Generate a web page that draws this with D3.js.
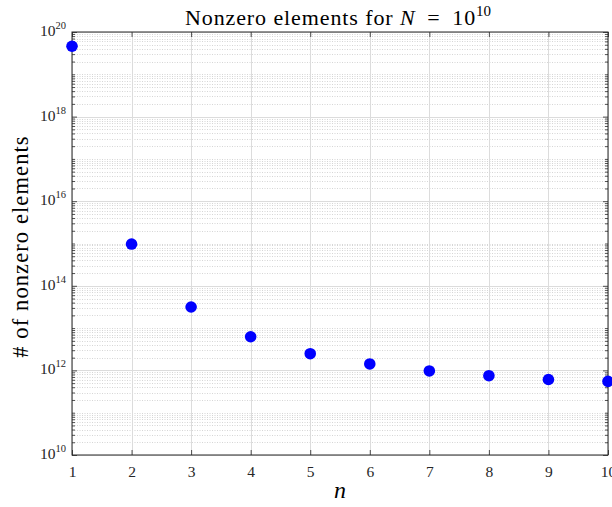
<!DOCTYPE html>
<html><head><meta charset="utf-8">
<script src="https://cdn.jsdelivr.net/npm/d3@7"></script>
<style>body{margin:0;background:#fff}</style>
</head><body>
<svg id="c" width="612" height="507"></svg>
<script>
const nValues = [1,2,3,4,5,6,7,8,9,10];
const nonzeroCounts = [4.6e19, 9.7e14, 3.15e13, 6.25e12, 2.48e12, 1.42e12, 9.7e11, 7.5e11, 6.1e11, 5.5e11];
const xTicks = [1,2,3,4,5,6,7,8,9,10];
const yTickExponents = [10,12,14,16,18,20];

(function(){
const svg = d3.select("#c");
const font = "'Liberation Serif', 'DejaVu Serif', serif";
const L = 72, R = 608, T = 32, B = 455;
const x = d3.scaleLinear().domain([1,10]).range([L,R]);
const y = d3.scaleLog().domain([1e10,1e20]).range([B,T]);

const minor = [];
for (let e=10;e<20;e++) for (let m=1;m<10;m++){ const v=m*Math.pow(10,e); if(!(m===1 && e%2===0)) minor.push(v);}
const major = yTickExponents.map(e=>Math.pow(10,e));

const g = svg.append("g");
g.selectAll(".mg").data(minor).enter().append("line")
 .attr("x1",L).attr("x2",R).attr("y1",d=>Math.round(y(d))+0.5).attr("y2",d=>Math.round(y(d))+0.5)
 .attr("stroke","#c4c4c4").attr("stroke-width",0.7).attr("stroke-dasharray","1,1.5");
g.selectAll(".Mg").data(major).enter().append("line")
 .attr("x1",L).attr("x2",R).attr("y1",d=>Math.round(y(d))+0.5).attr("y2",d=>Math.round(y(d))+0.5)
 .attr("stroke","#dcdcdc").attr("stroke-width",1);
g.selectAll(".xg").data(xTicks).enter().append("line")
 .attr("x1",d=>Math.round(x(d))+0.5).attr("x2",d=>Math.round(x(d))+0.5).attr("y1",T).attr("y2",B)
 .attr("stroke","#dcdcdc").attr("stroke-width",1);

const ax = svg.append("g");
const axB = ax.append("g").attr("transform",`translate(0,${B})`)
 .call(d3.axisBottom(x).tickValues(xTicks).tickSize(-5).tickPadding(11).tickFormat(d3.format("d")));
ax.append("g").attr("transform",`translate(0,${T})`)
 .call(d3.axisTop(x).tickValues(xTicks).tickSize(-5).tickFormat(""));
ax.append("g").attr("transform",`translate(${L},0)`)
 .call(d3.axisLeft(y).tickValues(major).tickSize(-5).tickFormat(""));
ax.append("g").attr("transform",`translate(${R},0)`)
 .call(d3.axisRight(y).tickValues(major).tickSize(-5).tickFormat(""));
ax.append("g").attr("transform",`translate(${L},0)`)
 .call(d3.axisLeft(y).tickValues(minor).tickSize(-3).tickFormat(""));
ax.append("g").attr("transform",`translate(${R},0)`)
 .call(d3.axisRight(y).tickValues(minor).tickSize(-3).tickFormat(""));
ax.selectAll(".domain").remove();
ax.selectAll("line").attr("stroke","#262626").attr("stroke-width",0.8);
axB.selectAll("text").attr("font-family",font).attr("font-size",15.5).attr("fill","#262626");

svg.append("rect").attr("x",L).attr("y",T).attr("width",R-L).attr("height",B-T)
 .attr("fill","none").attr("stroke","#262626").attr("stroke-width",1);

const yl = svg.append("g").selectAll("text").data(yTickExponents).enter().append("text")
 .attr("x",L-6).attr("y",d=>y(Math.pow(10,d))+4).attr("text-anchor","end")
 .attr("font-family",font).attr("fill","#262626");
yl.append("tspan").attr("font-size",15.5).text("10");
yl.append("tspan").attr("font-size",10.5).attr("dy",-7).text(d=>d);

svg.append("g").selectAll("circle").data(nValues).enter().append("circle")
 .attr("cx",(d)=>x(d)).attr("cy",(d,i)=>y(nonzeroCounts[i])).attr("r",5.8)
 .attr("fill","#0000ff");

const t = svg.append("text").attr("x",338).attr("y",25).attr("text-anchor","middle")
 .attr("font-family",font).attr("font-size",22).attr("letter-spacing",0.9).attr("fill","#000");
t.append("tspan").text("Nonzero elements for ");
t.append("tspan").attr("font-style","italic").text("N");
t.append("tspan").text(" \u2009=\u2009 10");
t.append("tspan").attr("font-size",15).attr("dy",-9).attr("letter-spacing",0).text("10");

svg.append("text").attr("x",340).attr("y",498).attr("text-anchor","middle")
 .attr("font-family",font).attr("font-size",24).attr("font-style","italic").text("n");
svg.append("text").attr("transform",`translate(28,${(T+B)/2 + 3}) rotate(-90)`).attr("text-anchor","middle")
 .attr("font-family",font).attr("font-size",22.5).attr("letter-spacing",1.1).text("# of nonzero elements");
})();
</script>
</body></html>
